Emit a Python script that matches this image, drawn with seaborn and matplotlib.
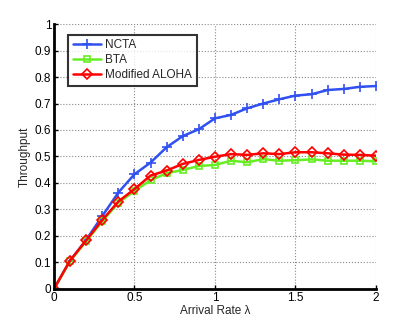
import numpy as np
import pandas as pd
import matplotlib
matplotlib.use("Agg")
import matplotlib.pyplot as plt
import seaborn as sns

# arrival rate and throughput curves
arrival_rate = [0.0, 0.1, 0.2, 0.3, 0.4, 0.5, 0.6, 0.7, 0.8, 0.9, 1.0,
                1.1, 1.2, 1.3, 1.4, 1.5, 1.6, 1.7, 1.8, 1.9, 2.0]
ncta = [0.0, 0.107, 0.185, 0.275, 0.364, 0.433, 0.477, 0.535, 0.577, 0.603, 0.644,
        0.657, 0.682, 0.700, 0.716, 0.730, 0.735, 0.751, 0.755, 0.763, 0.766]
bta = [0.0, 0.105, 0.180, 0.255, 0.325, 0.370, 0.410, 0.437, 0.449, 0.464, 0.468,
       0.484, 0.478, 0.490, 0.484, 0.486, 0.489, 0.484, 0.484, 0.484, 0.482]
aloha = [0.0, 0.107, 0.183, 0.260, 0.330, 0.377, 0.428, 0.447, 0.472, 0.487, 0.499,
         0.509, 0.506, 0.512, 0.509, 0.516, 0.516, 0.512, 0.507, 0.506, 0.503]
names = ["NCTA", "BTA", "Modified ALOHA"]

df = pd.concat([
    pd.DataFrame({"rate": arrival_rate, "thr": vals, "scheme": name})
    for name, vals in zip(names, [ncta, bta, aloha])
])

sns.set_theme(style="white")
plt.rcParams["font.family"] = ["Liberation Sans", "DejaVu Sans"]

fig = plt.figure(figsize=(4.15, 3.25), dpi=100)
ax = fig.add_axes([0.130, 0.111, 0.776, 0.815])

palette = {"NCTA": "#3050f0", "BTA": "#66ee22", "Modified ALOHA": "#ff0000"}
markers = {"NCTA": "+", "BTA": "s", "Modified ALOHA": "D"}
for name in names:
    sub = df[df["scheme"] == name]
    sns.lineplot(data=sub, x="rate", y="thr", ax=ax, color=palette[name],
                 marker=markers[name], markersize=5 if name != "NCTA" else 7,
                 markerfacecolor="none", markeredgecolor=palette[name],
                 markeredgewidth=1.2, linewidth=1.8, label=name)

ax.set_xlim(0, 2)
ax.set_ylim(0, 1)
ax.set_xticks([0, 0.5, 1, 1.5, 2])
ax.set_xticklabels(["0", "0.5", "1", "1.5", "2"])
ax.set_yticks(np.round(np.arange(0, 1.01, 0.1), 1))
ax.set_yticklabels(["0", "0.1", "0.2", "0.3", "0.4", "0.5", "0.6", "0.7", "0.8", "0.9", "1"])
ax.grid(True, linestyle=":", color="#888888", linewidth=0.8)
ax.tick_params(direction="in", length=3, width=1, labelsize=8.5, colors="black",
               bottom=True, left=True, pad=2)
# matlab-like: thick left/bottom axes, open top/right
ax.spines["top"].set_visible(False)
ax.spines["right"].set_visible(False)
for side in ["left", "bottom"]:
    ax.spines[side].set_color("black")
    ax.spines[side].set_linewidth(2)

ax.set_xlabel("Arrival Rate λ", fontsize=8.5, labelpad=1)
ax.set_ylabel("Throughput", fontsize=8.5, labelpad=3)

leg = ax.legend(loc="upper left", bbox_to_anchor=(0.045, 0.96), fontsize=8.5,
                frameon=True, fancybox=False, handlelength=2.4,
                borderpad=0.4, labelspacing=0.25, handletextpad=0.3,
                borderaxespad=0)
leg.get_frame().set_edgecolor("black")
leg.get_frame().set_linewidth(1.5)

fig.savefig("out.png", dpi=100)
